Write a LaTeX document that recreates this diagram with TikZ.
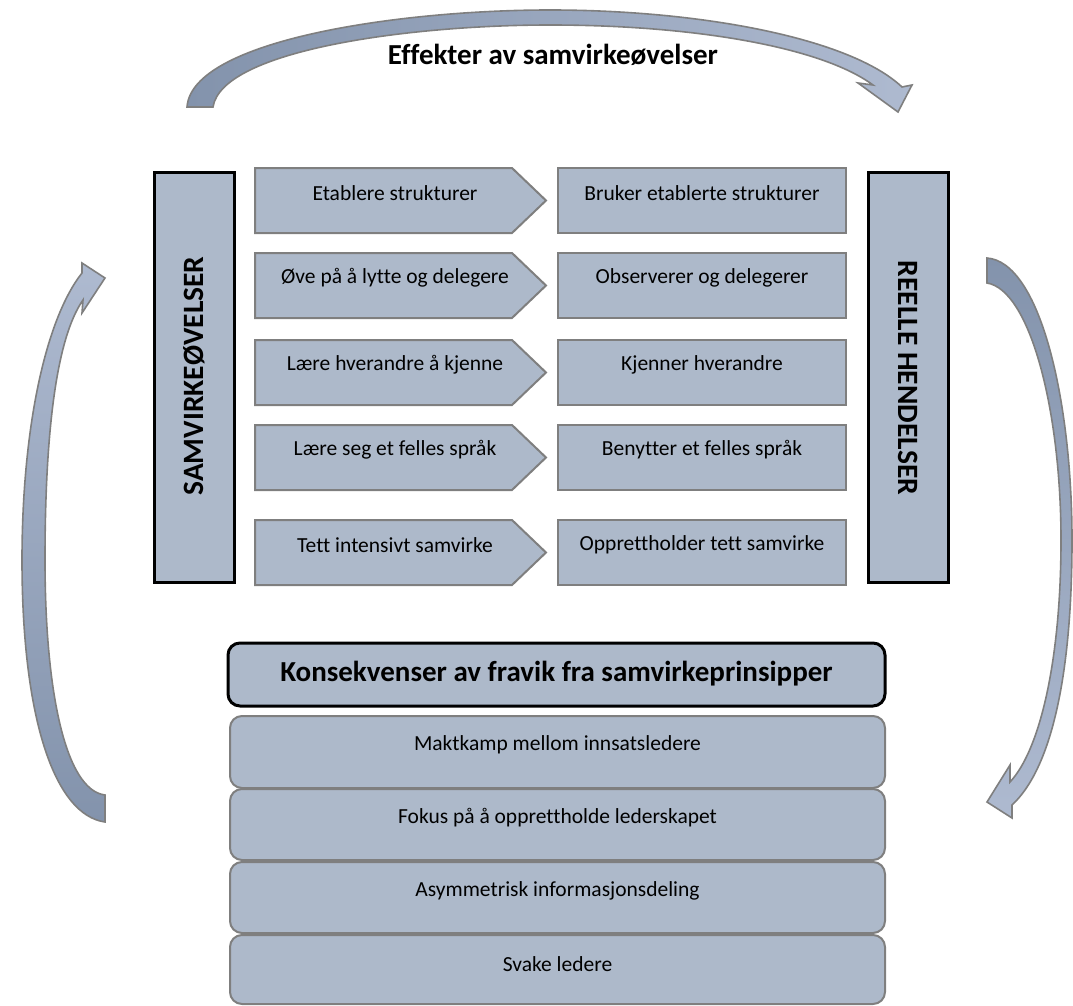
\documentclass[tikz,border=0pt]{standalone}
\usepackage{fontspec}
\setmainfont{Carlito}[Ligatures=NoCommon]
\definecolor{boxfill}{HTML}{ADB9CA}
\definecolor{boxline}{HTML}{7F7F7F}
\definecolor{arrdark}{HTML}{8393AC}
\definecolor{arrlight}{HTML}{AEBAD0}
\tikzset{
  flatbox/.style={draw=boxline, fill=boxfill, line width=2pt},
  tallbox/.style={draw=black, fill=boxfill, line width=3.5pt, minimum width=80pt, minimum height=410pt, inner sep=0pt},
  headbox/.style={draw=black, fill=boxfill, line width=3pt, rounded corners=12pt},
  stackbox/.style={draw=boxline, fill=boxfill, line width=2pt, rounded corners=12pt},
  bandarrow/.style={draw=boxline, line width=1.6pt, line join=miter},
  itemtxt/.style={font=\fontsize{21.5}{23}\selectfont, inner sep=0pt},
  boldtxt/.style={font=\bfseries\fontsize{29}{31}\selectfont, inner sep=0pt},
  sidetxt/.style={font=\bfseries\fontsize{29.5}{31}\selectfont, inner sep=0pt}
}
\begin{document}
\begin{tikzpicture}[x=1pt,y=-1pt]
\useasboundingbox (0,0) rectangle (1073,1006);

% curved block arrow across the top
\path[bandarrow, left color=arrdark, right color=arrlight]
  (187,107) .. controls (192,40) and (400,10) .. (550,10)
  .. controls (700,10) and (850,38) .. (902,87)
  -- (912,85) -- (898,112) -- (858,83) -- (873,85)
  .. controls (820,46) and (690,25) .. (550,25)
  .. controls (410,25) and (222,50) .. (213,107) -- cycle;
\node[boldtxt] (effekt) at (553,55) {Effekter av samvirkeøvelser};

% curved block arrow on the left, rising
\path[bandarrow, top color=arrlight, bottom color=arrdark]
  (105,822) -- (105,795)
  .. controls (65,790) and (45,690) .. (45,560)
  .. controls (45,440) and (55,340) .. (83,300)
  -- (82,313) -- (105,278) -- (82,263) -- (82,273)
  .. controls (45,320) and (22,430) .. (22,560)
  .. controls (22,720) and (55,815) .. (105,822) -- cycle;

% curved block arrow on the right, descending
\path[bandarrow, top color=arrdark, bottom color=arrlight]
  (987,258) .. controls (1040,262) and (1072,400) .. (1072,540)
  .. controls (1072,680) and (1050,770) .. (1012,805)
  -- (1012,818) -- (987,802) -- (1010,765) -- (1010,782)
  .. controls (1040,750) and (1061,660) .. (1061,540)
  .. controls (1061,410) and (1030,290) .. (987,283) -- cycle;

% side columns
\node[tallbox] (samv) at (194.5,377.5) {};
\node[sidetxt, rotate=90] (samvtxt) at (194.5,376) {SAMVIRKEØVELSER};
\node[tallbox] (reelle) at (908.5,377.5) {};
\node[sidetxt, rotate=-90] (reelletxt) at (908.5,378) {REELLE HENDELSER};

% paired rows: exercise (pentagon) -> real incident (rectangle)
\foreach \t/\a/\b [count=\i] in {
  168/Etablere strukturer/Bruker etablerte strukturer,
  253/Øve på å lytte og delegere/Observerer og delegerer,
  340/Lære hverandre å kjenne/Kjenner hverandre,
  425/Lære seg et felles språk/Benytter et felles språk,
  520/Tett intensivt samvirke/Opprettholder tett samvirke}{
  \path[flatbox] (255,\t) -- (512,\t) -- (546,\t+32.5) -- (512,\t+65) -- (255,\t+65) -- cycle;
  \node[itemtxt] (ex\i) at (395,\t+25) {\a};
  \path[flatbox] (558,\t) rectangle (846,\t+65);
  \node[itemtxt] (re\i) at (702,\t+25) {\b};
}

% consequences stack
\path[headbox] (228,643) rectangle (885,706);
\node[boldtxt] (kons) at (556.5,674) {Konsekvenser av fravik fra samvirkeprinsipper};
\foreach \t/\b/\c [count=\i] in {
  716/788/Maktkamp mellom innsatsledere,
  789/860/Fokus på å opprettholde lederskapet,
  862/933/Asymmetrisk informasjonsdeling,
  935/1004/Svake ledere}{
  \path[stackbox] (230,\t) rectangle (885,\b);
  \node[itemtxt] (k\i) at (557.5,\t+29) {\c};
}
\end{tikzpicture}
\end{document}
